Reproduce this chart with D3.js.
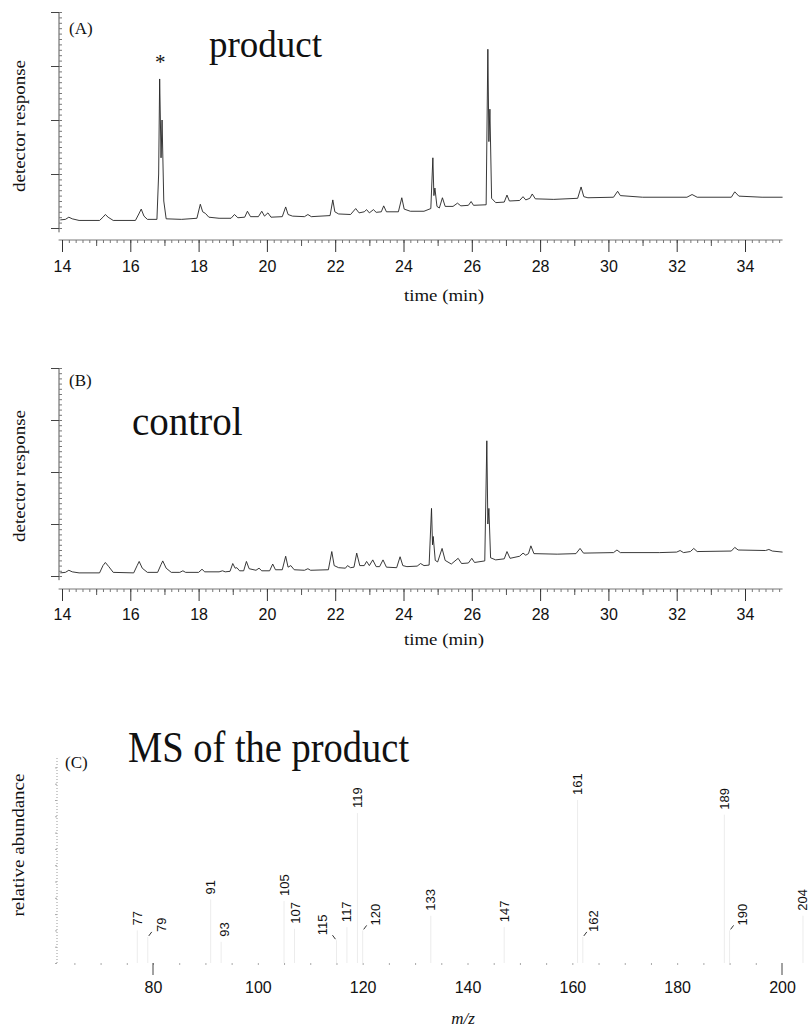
<!DOCTYPE html>
<html>
<head>
<meta charset="utf-8">
<script src="https://cdn.jsdelivr.net/npm/d3@7"></script>
<style>
  body { margin: 0; background: #fff; }
  svg { display: block; }
  .serif { font-family: "Liberation Serif", "Times New Roman", serif; fill: #111; }
  .sans { font-family: "Liberation Sans", Arial, sans-serif; fill: #111; }
  .tick text { font-family: "Liberation Sans", Arial, sans-serif; font-size: 16px; fill: #111; }
</style>
</head>
<body>
<svg id="chart"></svg>
<script>
// ---- data ----
const timeTicks = [14, 16, 18, 20, 22, 24, 26, 28, 30, 32, 34];

// (A) product chromatogram: [time (min), response]
const productTrace = [
  [13.95,0.15],[14.1,0.16],[14.2,0.2],[14.3,0.17],[14.5,0.14],[15.1,0.14],[15.2,0.2],[15.27,0.25],[15.35,0.2],[15.5,0.14],
  [16.15,0.14],[16.25,0.26],[16.32,0.35],[16.4,0.22],[16.5,0.16],[16.78,0.16],[16.83,1.0],[16.86,2.76],[16.9,1.3],[16.93,2.0],
  [16.98,0.5],[17.05,0.17],[17.5,0.16],[17.95,0.18],[18.05,0.44],[18.12,0.3],[18.2,0.27],[18.3,0.2],[18.6,0.18],
  [18.95,0.18],[19.05,0.25],[19.15,0.19],[19.35,0.2],[19.43,0.31],[19.52,0.21],[19.75,0.21],[19.85,0.31],[19.93,0.22],
  [20.03,0.28],[20.12,0.2],[20.45,0.21],[20.55,0.39],[20.62,0.25],[20.75,0.22],[21.1,0.21],[21.2,0.25],[21.3,0.21],
  [21.85,0.23],[21.93,0.52],[21.99,0.3],[22.1,0.26],[22.45,0.25],[22.6,0.36],[22.7,0.28],[22.85,0.3],[22.92,0.34],
  [23.0,0.28],[23.12,0.34],[23.2,0.29],[23.35,0.3],[23.42,0.41],[23.5,0.3],[23.85,0.3],[23.95,0.56],[24.02,0.35],
  [24.2,0.31],[24.6,0.31],[24.8,0.36],[24.86,1.3],[24.89,0.6],[24.92,0.74],[24.98,0.4],[25.05,0.37],[25.14,0.56],
  [25.22,0.4],[25.45,0.4],[25.58,0.46],[25.68,0.41],[25.9,0.42],[25.98,0.49],[26.05,0.42],[26.42,0.43],[26.47,3.31],
  [26.5,1.6],[26.53,2.2],[26.58,0.55],[26.7,0.47],[26.95,0.48],[27.03,0.61],[27.1,0.5],[27.4,0.51],[27.5,0.58],
  [27.58,0.52],[27.7,0.55],[27.77,0.63],[27.86,0.54],[28.4,0.53],[29.1,0.55],[29.2,0.76],[29.28,0.58],[29.4,0.56],
  [30.15,0.57],[30.27,0.68],[30.35,0.6],[31.0,0.57],[32.3,0.57],[32.45,0.62],[32.6,0.57],[33.6,0.57],[33.7,0.67],
  [33.82,0.59],[34.5,0.57],[35.1,0.57]
];

// (B) control chromatogram
const controlTrace = [
  [13.95,0.06],[14.1,0.07],[14.2,0.11],[14.3,0.08],[14.5,0.06],[15.1,0.06],[15.2,0.2],[15.27,0.26],[15.37,0.18],[15.5,0.07],
  [16.1,0.06],[16.2,0.2],[16.26,0.28],[16.35,0.15],[16.5,0.07],[16.8,0.07],[16.9,0.22],[16.95,0.29],[17.05,0.15],[17.2,0.07],
  [17.45,0.07],[17.54,0.1],[17.62,0.07],[18.0,0.07],[18.1,0.13],[18.18,0.08],[18.6,0.08],[18.7,0.1],[18.78,0.08],[18.92,0.09],
  [19.0,0.24],[19.07,0.15],[19.12,0.16],[19.2,0.1],[19.32,0.1],[19.4,0.28],[19.48,0.14],[19.68,0.11],[19.77,0.15],[19.85,0.1],
  [20.08,0.1],[20.17,0.23],[20.25,0.12],[20.45,0.12],[20.55,0.38],[20.62,0.17],[20.7,0.2],[20.8,0.12],[21.1,0.11],[21.2,0.14],
  [21.28,0.11],[21.8,0.12],[21.9,0.47],[21.97,0.2],[22.1,0.16],[22.3,0.15],[22.36,0.2],[22.45,0.16],[22.55,0.17],[22.63,0.44],
  [22.72,0.2],[22.85,0.2],[22.92,0.28],[23.0,0.2],[23.1,0.31],[23.2,0.18],[23.3,0.18],[23.4,0.31],[23.5,0.17],[23.8,0.16],
  [23.9,0.37],[23.98,0.2],[24.1,0.18],[24.4,0.19],[24.5,0.24],[24.6,0.2],[24.75,0.21],[24.82,1.3],[24.85,0.6],[24.87,0.76],
  [24.93,0.3],[25.0,0.27],[25.13,0.53],[25.22,0.3],[25.4,0.23],[25.6,0.34],[25.7,0.24],[25.9,0.25],[26.0,0.34],[26.08,0.26],
  [26.38,0.29],[26.44,2.6],[26.47,1.0],[26.5,1.3],[26.55,0.35],[26.7,0.31],[26.95,0.33],[27.03,0.47],[27.12,0.34],[27.4,0.38],
  [27.5,0.44],[27.58,0.4],[27.66,0.43],[27.73,0.58],[27.82,0.43],[28.5,0.42],[29.05,0.43],[29.17,0.53],[29.27,0.44],
  [30.15,0.45],[30.25,0.5],[30.35,0.45],[31.5,0.45],[32.0,0.46],[32.1,0.49],[32.2,0.45],[32.4,0.47],[32.5,0.53],[32.6,0.47],
  [33.6,0.48],[33.7,0.55],[33.8,0.5],[34.6,0.49],[34.7,0.51],[34.8,0.48],[35.1,0.46]
];

// (C) mass spectrum
const msMz     = [77, 79, 91, 93, 105, 107, 115, 117, 119, 120, 133, 147, 161, 162, 189, 190, 204];
const msAbund  = [20, 16, 39, 13, 38, 21, 14, 22, 92, 20, 29, 22, 100, 16, 91, 20, 29];
const msLabelShift = [0, 14, 0, 3, 0, 1, -14, 0, 0, 13, 0, 0, 0, 11, 0, 13, 0]; // px, label nudges
const mzTicks = [80, 100, 120, 140, 160, 180, 200];
const mzEndMarks = [80, 200];

// ---- layout ----
const W = 811, H = 1032;
const svg = d3.select("#chart").attr("width", W).attr("height", H);

const xTime = d3.scaleLinear().domain([14, 34]).range([62, 745]);

function drawChromatogram(trace, opt) {
  const g = svg.append("g");
  const y = d3.scaleLinear().domain([0, 4]).range([opt.y0, opt.y0 - 4 * opt.unit]);

  // y axis
  g.append("line")
    .attr("x1", 59).attr("x2", 59)
    .attr("y1", y(-0.08)).attr("y2", y(4))
    .attr("stroke", "#444").attr("stroke-width", 0.9);
  g.append("g").attr("transform", "translate(59,0)")
    .call(d3.axisLeft(y).tickValues([0, 1, 2, 3, 4]).tickSize(8).tickFormat(""))
    .call(s => s.select(".domain").remove())
    .selectAll("line").attr("stroke", "#444");
  g.append("g").attr("transform", "translate(59,0)")
    .call(d3.axisRight(y).tickValues(d3.range(0, 4.001, 0.1)).tickSize(3).tickFormat(""))
    .call(s => s.select(".domain").remove())
    .selectAll("line").attr("stroke", "#777");

  // x axis
  g.append("line")
    .attr("x1", xTime(13.9)).attr("x2", xTime(35.1))
    .attr("y1", opt.axisY).attr("y2", opt.axisY)
    .attr("stroke", "#555").attr("stroke-width", 0.8);
  g.append("g").attr("transform", `translate(0,${opt.axisY})`)
    .call(d3.axisBottom(xTime).tickValues(d3.range(14, 35.01, 0.2)).tickSize(3).tickFormat(""))
    .call(s => s.select(".domain").remove())
    .selectAll("line").attr("stroke", "#777");
  g.append("g").attr("transform", `translate(0,${opt.axisY})`)
    .call(d3.axisBottom(xTime).tickValues(d3.range(15, 35, 2)).tickSize(6).tickFormat(""))
    .call(s => s.select(".domain").remove())
    .selectAll("line").attr("stroke", "#555");
  g.append("g").attr("transform", `translate(0,${opt.axisY})`)
    .call(d3.axisBottom(xTime).tickValues(timeTicks).tickSize(12).tickPadding(opt.pad).tickFormat(d3.format("d")))
    .call(s => s.select(".domain").remove())
    .call(s => s.selectAll("line").attr("stroke", "#333"));

  // trace
  g.append("path")
    .datum(trace)
    .attr("fill", "none")
    .attr("stroke", "#222")
    .attr("stroke-width", 0.9)
    .attr("stroke-linejoin", "round")
    .attr("d", d3.line().x(d => xTime(d[0])).y(d => y(d[1])));

  // texts
  g.append("text").attr("class", "serif")
    .attr("x", 444).attr("y", opt.timeLabelY)
    .attr("text-anchor", "middle").attr("font-size", 17)
    .attr("textLength", 80).attr("lengthAdjust", "spacingAndGlyphs")
    .text("time (min)");
  g.append("text").attr("class", "serif")
    .attr("transform", `translate(25,${opt.yLabelY}) rotate(-90)`)
    .attr("text-anchor", "middle").attr("font-size", 17)
    .attr("textLength", 132).attr("lengthAdjust", "spacingAndGlyphs")
    .text("detector response");
  g.append("text").attr("class", "serif")
    .attr("x", 69).attr("y", opt.letterY).attr("font-size", 17)
    .text(opt.letter);
  g.append("text").attr("class", "serif")
    .attr("x", opt.titleX).attr("y", opt.titleY).attr("font-size", opt.titleSize)
    .text(opt.title);
  return y;
}

drawChromatogram(productTrace, {
  y0: 228, unit: 54, axisY: 240, pad: 9, timeLabelY: 301, yLabelY: 126,
  letter: "(A)", letterY: 34, title: "product", titleX: 209, titleY: 57, titleSize: 37
});
svg.append("text").attr("class", "serif")
  .attr("x", xTime(16.88)).attr("y", 69)
  .attr("text-anchor", "middle").attr("font-size", 21)
  .text("*");

drawChromatogram(controlTrace, {
  y0: 576, unit: 52, axisY: 589, pad: 8, timeLabelY: 645, yLabelY: 476,
  letter: "(B)", letterY: 386, title: "control", titleX: 132, titleY: 435, titleSize: 39
});

// ---- (C) mass spectrum ----
const gC = svg.append("g");
const xMz = d3.scaleLinear().domain([80, 200]).range([153, 782]);
const yAb = d3.scaleLinear().domain([0, 100]).range([963, 800]);

gC.append("line")
  .attr("x1", 57).attr("x2", 57).attr("y1", yAb(0)).attr("y2", yAb(126))
  .attr("stroke", "#999").attr("stroke-width", 1).attr("stroke-dasharray", "1,2");
gC.append("g").attr("transform", "translate(57,0)")
  .call(d3.axisLeft(yAb).tickValues(d3.range(0, 126, 10)).tickSize(2).tickFormat(""))
  .call(s => s.select(".domain").remove())
  .selectAll("line").attr("stroke", "#aaa");

gC.append("g").attr("transform", `translate(0,${yAb(0)})`)
  .call(d3.axisBottom(xMz).tickValues(mzTicks).tickSize(0).tickPadding(19).tickFormat(d3.format("d")))
  .call(s => s.select(".domain").remove());
gC.append("g").attr("transform", `translate(0,${yAb(0)})`)
  .call(d3.axisBottom(xMz).tickValues(d3.range(65, 200, 5)).tickSize(2).tickFormat(""))
  .call(s => s.select(".domain").remove())
  .selectAll("line").attr("stroke", "#aaa");
gC.selectAll(".endmark").data(mzEndMarks).enter().append("line")
  .attr("x1", d => xMz(d)).attr("x2", d => xMz(d))
  .attr("y1", yAb(0)).attr("y2", yAb(0) + 12)
  .attr("stroke", "#444");

const peaks = msMz.map((m, i) => ({ mz: m, ab: msAbund[i], dx: msLabelShift[i] }));

// sticks (faded in the original print)
gC.selectAll(".stick").data(peaks).enter().append("line")
  .attr("x1", d => xMz(d.mz)).attr("x2", d => xMz(d.mz))
  .attr("y1", yAb(0)).attr("y2", d => yAb(d.ab))
  .attr("stroke", "#ececec").attr("stroke-width", 1);

// leaders for nudged labels
gC.selectAll(".leader").data(peaks.filter(d => Math.abs(d.dx) > 5)).enter().append("line")
  .attr("x1", d => xMz(d.mz) + Math.sign(d.dx)).attr("y1", d => yAb(d.ab) - 1)
  .attr("x2", d => xMz(d.mz) + Math.sign(d.dx) * 4).attr("y2", d => yAb(d.ab) - 5)
  .attr("stroke", "#333").attr("stroke-width", 1);

gC.selectAll(".plabel").data(peaks).enter().append("text")
  .attr("class", "sans")
  .attr("font-size", 13)
  .attr("dominant-baseline", "central")
  .attr("transform", d => `translate(${xMz(d.mz) + d.dx},${yAb(d.ab) - 5}) rotate(-90)`)
  .text(d => d.mz);

gC.append("text").attr("class", "serif")
  .attr("x", 463).attr("y", 1024).attr("text-anchor", "middle")
  .attr("font-size", 17).attr("font-style", "italic")
  .text("m/z");
gC.append("text").attr("class", "serif")
  .attr("transform", `translate(24,845) rotate(-90)`)
  .attr("text-anchor", "middle").attr("font-size", 17)
  .attr("textLength", 143).attr("lengthAdjust", "spacingAndGlyphs")
  .text("relative abundance");
gC.append("text").attr("class", "serif")
  .attr("x", 65).attr("y", 768).attr("font-size", 17)
  .text("(C)");
gC.append("text").attr("class", "serif")
  .attr("transform", "translate(128,762) scale(1,1.15)")
  .attr("font-size", 38.5)
  .text("MS of the product");
</script>
</body>
</html>
